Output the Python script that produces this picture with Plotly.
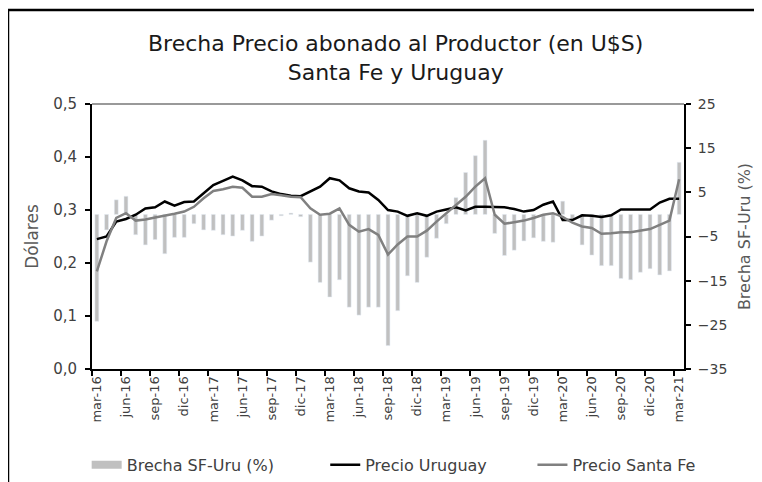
import plotly.graph_objects as go

meses = [
    "mar-16", "abr-16", "may-16", "jun-16", "jul-16", "ago-16", "sep-16", "oct-16", "nov-16", "dic-16",
    "ene-17", "feb-17", "mar-17", "abr-17", "may-17", "jun-17", "jul-17", "ago-17", "sep-17", "oct-17",
    "nov-17", "dic-17", "ene-18", "feb-18", "mar-18", "abr-18", "may-18", "jun-18", "jul-18", "ago-18",
    "sep-18", "oct-18", "nov-18", "dic-18", "ene-19", "feb-19", "mar-19", "abr-19", "may-19", "jun-19",
    "jul-19", "ago-19", "sep-19", "oct-19", "nov-19", "dic-19", "ene-20", "feb-20", "mar-20", "abr-20",
    "may-20", "jun-20", "jul-20", "ago-20", "sep-20", "oct-20", "nov-20", "dic-20", "ene-21", "feb-21",
    "mar-21",
]

# brecha Santa Fe vs Uruguay (%), eje derecho
brecha = [
    -24.2, -3.5, 3.3, 4.1, -4.6, -6.9, -5.7, -8.9, -5.2, -5.2,
    -2.1, -3.5, -3.6, -4.6, -4.9, -3.6, -6.1, -4.9, -1.3, -0.3,
    0.3, -0.5, -10.8, -15.4, -18.7, -14.8, -21.0, -22.8, -21.0, -21.0,
    -29.7, -21.8, -13.9, -15.4, -9.7, -5.4, -2.1, 3.8, 9.5, 13.3,
    16.8, -4.3, -9.3, -8.1, -6.0, -5.3, -6.1, -6.3, 3.0, -1.1,
    -6.9, -9.2, -11.6, -11.6, -14.5, -14.8, -13.1, -12.3, -13.7, -12.8,
    11.8,
]

# precios en dolares, eje izquierdo
precio_uruguay = [
    0.245, 0.250, 0.278, 0.283, 0.291, 0.303, 0.305, 0.316, 0.308, 0.315,
    0.316, 0.331, 0.347, 0.355, 0.363, 0.356, 0.345, 0.344, 0.335, 0.330,
    0.327, 0.326, 0.335, 0.344, 0.360, 0.356, 0.341, 0.335, 0.333, 0.319,
    0.300, 0.297, 0.289, 0.294, 0.289, 0.297, 0.301, 0.305, 0.299, 0.306,
    0.306, 0.305, 0.305, 0.302, 0.297, 0.300, 0.310, 0.316, 0.281, 0.281,
    0.290, 0.289, 0.287, 0.290, 0.301, 0.301, 0.301, 0.301, 0.314, 0.321,
    0.321,
]

precio_santa_fe = [
    0.184, 0.241, 0.285, 0.294, 0.280, 0.282, 0.286, 0.289, 0.293, 0.297,
    0.306, 0.322, 0.336, 0.339, 0.344, 0.342, 0.325, 0.325, 0.330, 0.328,
    0.325, 0.324, 0.303, 0.291, 0.293, 0.303, 0.272, 0.259, 0.264, 0.253,
    0.216, 0.235, 0.250, 0.250, 0.261, 0.278, 0.294, 0.310, 0.325, 0.344,
    0.360, 0.291, 0.274, 0.277, 0.280, 0.285, 0.291, 0.294, 0.287, 0.276,
    0.269, 0.266, 0.255, 0.256, 0.258, 0.258, 0.261, 0.264, 0.272, 0.280,
    0.358,
]

titulo = "Brecha Precio abonado al Productor (en U$S)<br>Santa Fe y Uruguay"

FONT = "DejaVu Sans"
TXT = "#404040"

fig = go.Figure()

# barras en el eje "y" (derecho) para que las lineas queden por encima
fig.add_trace(go.Bar(
    x=meses, y=brecha, name="Brecha SF-Uru (%)",
    marker_color="#c0c0c0", yaxis="y", showlegend=False,
))
# muestra de leyenda para las barras (barra ancha como en el original)
fig.add_trace(go.Scatter(
    x=[None], y=[None], mode="lines", name="Brecha SF-Uru (%)",
    line=dict(color="#c0c0c0", width=8), yaxis="y", legend="legend",
))
fig.add_trace(go.Scatter(
    x=meses, y=precio_uruguay, mode="lines", name="Precio Uruguay",
    line=dict(color="#000000", width=2.5), yaxis="y2", legend="legend2",
))
fig.add_trace(go.Scatter(
    x=meses, y=precio_santa_fe, mode="lines", name="Precio Santa Fe",
    line=dict(color="#808080", width=2.5), yaxis="y2", legend="legend3",
))

leg = dict(orientation="h", xanchor="left", y=-0.362, yanchor="middle",
           font=dict(size=16, color=TXT), bgcolor="rgba(0,0,0,0)")

# la pagina agrega 8px de margen al body, por eso la figura es 8px mas chica
fig.update_layout(
    width=754, height=474,
    margin=dict(l=84, r=78, t=96, b=113, autoexpand=False),
    paper_bgcolor="white", plot_bgcolor="white",
    separators=",.",
    font=dict(family=FONT, color=TXT, size=14),
    bargap=0.6,
    xaxis=dict(
        type="category", tickmode="linear", tick0=0, dtick=3,
        tickson="boundaries", ticks="outside", ticklen=5, tickwidth=1.5,
        tickcolor="#000000", tickangle=-90, automargin=False,
        showline=True, linecolor="#000000", linewidth=2,
        showgrid=False, tickfont=dict(size=13, color=TXT),
    ),
    yaxis=dict(
        side="right", range=[-35, 25], tickvals=[-35, -25, -15, -5, 5, 15, 25],
        ticks="outside", ticklen=5, tickwidth=1.5, tickcolor="#000000",
        ticklabelstandoff=4,
        showline=True, linecolor="#000000", linewidth=2, automargin=False,
        showgrid=False, zeroline=False, tickfont=dict(size=14, color=TXT),
        title=dict(text="Brecha SF-Uru (%)", standoff=12,
                   font=dict(size=16, color="#595959")),
    ),
    yaxis2=dict(
        overlaying="y", side="left", range=[0, 0.5], dtick=0.1, tickformat=".1f",
        ticks="outside", ticklen=5, tickwidth=1.5, tickcolor="#000000",
        ticklabelstandoff=5,
        showline=True, linecolor="#000000", linewidth=2, automargin=False,
        showgrid=False, zeroline=False, tickfont=dict(size=15, color=TXT),
        title=dict(text="Dólares", standoff=10,
                   font=dict(size=17, color="#595959")),
    ),
    legend=dict(leg, x=-0.009),
    legend2=dict(leg, x=0.394),
    legend3=dict(leg, x=0.744),
    annotations=[
        dict(text=titulo, xref="paper", yref="paper", x=0.5127, y=1.1736,
             xanchor="center", yanchor="middle", showarrow=False,
             font=dict(size=22, color="#1a1a1a")),
    ],
    shapes=[
        # borde superior gris del area de grafico
        dict(type="line", xref="paper", yref="paper", x0=0, x1=1, y0=1, y1=1,
             line=dict(color="#999999", width=2)),
        # marco negro exterior
        dict(type="rect", xref="paper", yref="paper",
             x0=-0.1419, x1=1.2, y0=-0.6, y1=1.3547,
             line=dict(color="#000000", width=2.5)),
    ],
)

fig.write_html("out.html")
